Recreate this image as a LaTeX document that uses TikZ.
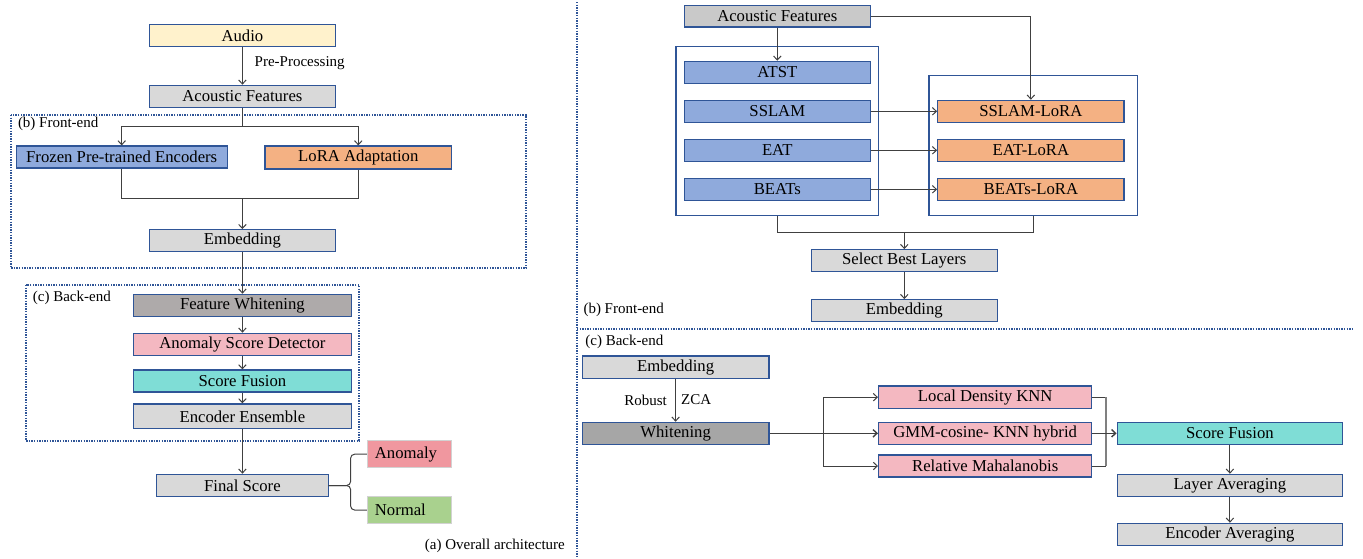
\documentclass[tikz,border=0pt]{standalone}
\usepackage{fontspec}
\setmainfont{Liberation Serif}
\usepackage{tikz}
\usetikzlibrary{positioning}
\usetikzlibrary{arrows,arrows.meta}

\definecolor{edgeblue}{RGB}{47,85,151}
\definecolor{linegray}{RGB}{64,64,64}
\definecolor{audioyellow}{HTML}{FFF2CC}
\definecolor{featgray}{HTML}{D9D9D9}
\definecolor{featdark}{HTML}{C9C9C9}
\definecolor{whitegray}{HTML}{AEAAAA}
\definecolor{whitedark}{HTML}{A6A6A6}
\definecolor{encblue}{HTML}{8FAADC}
\definecolor{loraorange}{HTML}{F4B183}
\definecolor{scorepink}{HTML}{F4B8C1}
\definecolor{fusioncyan}{HTML}{7FDDD6}
\definecolor{anomred}{HTML}{F0979F}
\definecolor{normgreen}{HTML}{A9D18E}

\newcommand{\blkfont}{\fontsize{16.7}{20}\selectfont}
\newcommand{\lblfont}{\fontsize{15}{18}\selectfont}

\tikzstyle{block} = [draw=edgeblue,line width=1.2pt,inner sep=0pt,font=\blkfont]
\tikzstyle{holder} = [draw=edgeblue,line width=1.2pt,inner sep=0pt]
\tikzstyle{flow} = [draw=linegray,line width=1pt,->,>={Straight Barb[length=4pt,width=7.5pt]}]
\tikzstyle{wire} = [draw=linegray,line width=1pt]
\tikzstyle{zone} = [draw=edgeblue,line width=1.8pt,dash pattern=on 1.4pt off 1.2pt]
\tikzstyle{lbl} = [font=\lblfont,inner sep=0pt]

\begin{document}
\begin{tikzpicture}[x=1pt,y=-1pt]
\useasboundingbox (0,0) rectangle (1363,558);

%Dotted frames
\draw [zone] (11.1,115) rectangle (526.2,268.3);
\draw [zone] (26,285) rectangle (359.2,440.7);
\draw [zone] (577,2) -- (577,557);
\draw [zone] (577,328.8) -- (1352,328.8);

%(a) Overall architecture - nodes
\node [block,fill=audioyellow,minimum width=186.3pt,minimum height=22pt] (audio) at (242.4,35.3) {Audio};
\node [block,fill=featgray,minimum width=186.3pt,minimum height=22pt] (featL) at (242.4,96.3) {Acoustic Features};
\node [block,fill=encblue,minimum width=210.8pt,minimum height=22pt] (frozen) at (121.7,157) {Frozen Pre-trained Encoders};
\node [block,fill=loraorange,minimum width=186.6pt,minimum height=23pt] (lora) at (358.3,157.5) {LoRA Adaptation};
\node [block,fill=featgray,minimum width=186.3pt,minimum height=22pt] (embL) at (242.4,240.7) {Embedding};

\node [block,fill=whitegray,minimum width=218.5pt,minimum height=22pt] (fwhite) at (242.4,305.3) {Feature Whitening};
\node [block,fill=scorepink,minimum width=218.5pt,minimum height=22pt] (asd) at (242.4,344.3) {Anomaly Score Detector};
\node [block,fill=fusioncyan,minimum width=218.5pt,minimum height=22pt] (fuseL) at (242.4,381) {Score Fusion};
\node [block,fill=featgray,minimum width=218.5pt,minimum height=24.7pt] (ensem) at (242.4,416.3) {Encoder Ensemble};
\node [block,fill=featgray,minimum width=171.4pt,minimum height=22.4pt] (final) at (242.4,485.5) {Final Score};

\node [draw=gray!35,line width=0.8pt,fill=anomred,font=\blkfont,inner xsep=7.5pt,text width=69.3pt,align=left,minimum height=27pt] (anomaly) at (409.5,454.2) {Anomaly};
\node [draw=gray!35,line width=0.8pt,fill=normgreen,font=\blkfont,inner xsep=7.5pt,text width=69.3pt,align=left,minimum height=26.6pt] (normal) at (409.5,510) {Normal};

\node [lbl,anchor=west] (prep) at (254.5,62.7) {Pre-Processing};
\node [lbl,anchor=west] (frontL) at (17.8,124) {(b) Front-end};
\node [lbl,anchor=west] (backL) at (32.7,297.7) {(c) Back-end};
\node [lbl,anchor=east] (overall) at (565,546) {(a) Overall architecture};

\coordinate (splitL) at (242.4,126.7);
\coordinate (mergeL) at (242.4,198.7);
\coordinate (braceL) at (350.6,485.5);

%(a) Overall architecture - lines
\draw [flow] (audio) -- (featL);
\draw [wire] (featL) -- (splitL);
\draw [flow] (splitL) -| (frozen);
\draw [flow] (splitL) -| (lora);
\draw [wire] (frozen) |- (mergeL);
\draw [wire] (lora) |- (mergeL);
\draw [flow] (mergeL) -- (embL);
\draw [flow] (embL) -- (fwhite);
\draw [flow] (fwhite) -- (asd);
\draw [flow] (asd) -- (fuseL);
\draw [flow] (fuseL) -- (ensem);
\draw [flow] (ensem) -- (final);
\draw [wire,rounded corners=4pt] (anomaly.west) -| (braceL) -- (final.east);
\draw [wire,rounded corners=4pt] (normal.west) -| (braceL) -- (final.east);

%(b) Front-end - nodes
\node [block,fill=featdark,minimum width=186pt,minimum height=21.3pt] (featR) at (777.3,16.3) {Acoustic Features};
\node [holder,minimum width=202.6pt,minimum height=169.4pt] (encbox) at (777.3,131) {};
\node [holder,minimum width=208.7pt,minimum height=139.6pt] (lorabox) at (1033.35,145.5) {};

\node [block,fill=encblue,minimum width=186pt,minimum height=22pt] (atst) at (777.3,72.3) {ATST};
\node [block,fill=encblue,minimum width=186pt,minimum height=22pt] (sslam) at (777.3,111.3) {SSLAM};
\node [block,fill=encblue,minimum width=186pt,minimum height=22pt] (eat) at (777.3,150.3) {EAT};
\node [block,fill=encblue,minimum width=186pt,minimum height=22pt] (beats) at (777.3,189.3) {BEATs};

\node [block,fill=loraorange,minimum width=186.3pt,minimum height=22pt] (sslamlora) at (1030.85,111.3) {SSLAM-LoRA};
\node [block,fill=loraorange,minimum width=186.3pt,minimum height=22pt] (eatlora) at (1030.85,150.3) {EAT-LoRA};
\node [block,fill=loraorange,minimum width=186.3pt,minimum height=22pt] (beatslora) at (1030.85,189.3) {BEATs-LoRA};

\node [block,fill=featgray,minimum width=186pt,minimum height=22pt] (select) at (904.3,260.7) {Select Best Layers};
\node [block,fill=featgray,minimum width=186pt,minimum height=22pt] (embR) at (904.3,310.7) {Embedding};
\node [lbl,anchor=west] (frontR) at (583.3,309.7) {(b) Front-end};

\coordinate (mergeR) at (904.3,232.3);

%(b) Front-end - lines
\draw [flow] (featR) -- (atst);
\draw [flow] (featR) -| (sslamlora);
\draw [flow] (sslam) -- (sslamlora);
\draw [flow] (eat) -- (eatlora);
\draw [flow] (beats) -- (beatslora);
\draw [wire] (encbox) |- (mergeR);
\draw [wire] (lorabox) |- (mergeR);
\draw [flow] (mergeR) -- (select);
\draw [flow] (select) -- (embR);

%(c) Back-end - nodes
\node [lbl,anchor=west] (backR) at (585.2,341.7) {(c) Back-end};
\node [block,fill=featgray,minimum width=186.8pt,minimum height=22.3pt] (embB) at (675.6,367.2) {Embedding};
\node [block,fill=whitedark,minimum width=186.8pt,minimum height=22pt] (whiten) at (675.6,433.3) {Whitening};
\node [lbl,anchor=east] (robust) at (667,400) {Robust};
\node [lbl,anchor=west] (zca) at (681,400) {ZCA};

\node [block,fill=scorepink,minimum width=213.2pt,minimum height=22.3pt] (ldknn) at (985.2,397.2) {Local Density KNN};
\node [block,fill=scorepink,minimum width=213.2pt,minimum height=22pt] (gmm) at (985.2,433.3) {GMM-cosine- KNN hybrid};
\node [block,fill=scorepink,minimum width=213.2pt,minimum height=22pt] (relmaha) at (985.2,466) {Relative Mahalanobis};

\node [block,fill=fusioncyan,minimum width=225.4pt,minimum height=22pt] (fuseR) at (1229.9,433.3) {Score Fusion};
\node [block,fill=featgray,minimum width=225.4pt,minimum height=22pt] (layavg) at (1229.9,485.3) {Layer Averaging};
\node [block,fill=featgray,minimum width=225.4pt,minimum height=22pt] (encavg) at (1229.9,534.3) {Encoder Averaging};

\coordinate (fork) at (823.8,433.3);
\coordinate (joinR) at (1105.5,433.3);

%(c) Back-end - lines
\draw [flow] (embB) -- (whiten);
\draw [flow,line width=1.4pt] (whiten) -- (gmm);
\draw [flow] (fork) |- (ldknn);
\draw [flow] (fork) |- (relmaha);
\draw [wire] (ldknn.east) -- (ldknn.east -| joinR);
\draw [wire] (relmaha.east) -- (relmaha.east -| joinR);
\draw [draw=gray,line width=2pt] (ldknn.east -| joinR) -- (relmaha.east -| joinR);
\draw [flow,line width=1.4pt] (gmm) -- (fuseR);
\draw [flow] (fuseR) -- (layavg);
\draw [flow] (layavg) -- (encavg);

\end{tikzpicture}
\end{document}
